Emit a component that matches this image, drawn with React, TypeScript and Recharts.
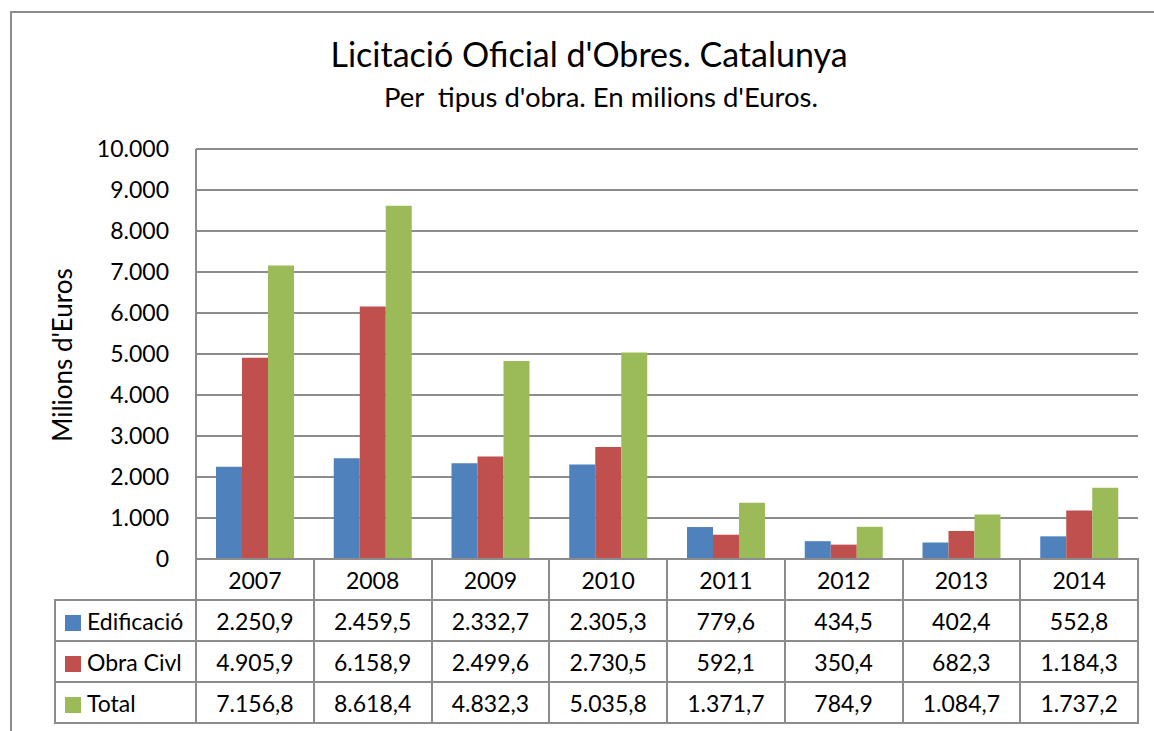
import React from 'react';
import { BarChart, Bar, XAxis, YAxis, CartesianGrid } from 'recharts';

const years = ['2007', '2008', '2009', '2010', '2011', '2012', '2013', '2014'];
const edificacio = [2250.9, 2459.5, 2332.7, 2305.3, 779.6, 434.5, 402.4, 552.8];
const obraCivil = [4905.9, 6158.9, 2499.6, 2730.5, 592.1, 350.4, 682.3, 1184.3];
const total = [7156.8, 8618.4, 4832.3, 5035.8, 1371.7, 784.9, 1084.7, 1737.2];
const yTicks = [0, 1000, 2000, 3000, 4000, 5000, 6000, 7000, 8000, 9000, 10000];

const series = [
    { key: 'edificacio', name: 'Edificació', color: '#4F81BD', values: edificacio },
    { key: 'obraCivil', name: 'Obra Civl', color: '#C0504D', values: obraCivil },
    { key: 'total', name: 'Total', color: '#9BBB59', values: total },
];

const data = years.map((year, i) => ({
    year,
    edificacio: edificacio[i],
    obraCivil: obraCivil[i],
    total: total[i],
}));

const FONT = 'Lato, "Open Sans", sans-serif';
const GRID = '#8c8c8c';

const thousands = (s: string) => s.replace(/\B(?=(\d{3})+(?!\d))/g, '.');
const fmtTick = (v: number) => thousands(String(v));
const fmtValue = (v: number) => {
    const [int, dec] = v.toFixed(1).split('.');
    return thousands(int) + ',' + dec;
};

const cell: React.CSSProperties = {
    border: `2px solid ${GRID}`,
    height: 39,
    padding: 0,
    textAlign: 'center',
    fontSize: 23,
    boxSizing: 'border-box',
};

const DataTable: React.FC = () => (
    <table
        style={{
            position: 'absolute',
            left: 54,
            top: 558,
            width: 1085,
            borderCollapse: 'collapse',
            tableLayout: 'fixed',
            fontFamily: FONT,
            color: '#000',
        }}
    >
        <colgroup>
            <col style={{ width: 141 }} />
            {years.map(y => <col key={y} />)}
        </colgroup>
        <tbody>
            <tr style={{ height: 41 }}>
                <td style={{ ...cell, border: 'none' }} />
                {years.map(y => <td key={y} style={cell}>{y}</td>)}
            </tr>
            {series.map(s => (
                <tr key={s.key} style={{ height: 41 }}>
                    <td style={{ ...cell, textAlign: 'left', paddingLeft: 9, whiteSpace: 'nowrap' }}>
                        <span style={{ display: 'inline-block', width: 16, height: 16, background: s.color, marginRight: 6, verticalAlign: -1 }} />
                        {s.name}
                    </td>
                    {s.values.map((v, i) => <td key={i} style={cell}>{fmtValue(v)}</td>)}
                </tr>
            ))}
        </tbody>
    </table>
);

export default function App() {
    return (
        <div style={{ position: 'absolute', left: 0, top: 0, width: 1154, height: 731, overflow: 'hidden', background: '#fff' }}>
            <div style={{ position: 'absolute', left: 10, top: 11, width: 1300, height: 900, border: `2px solid ${GRID}` }} />
            <div style={{ position: 'absolute', left: 0, width: 1178, top: 33, textAlign: 'center', fontFamily: FONT, fontSize: 34, color: '#000' }}>
                Licitació Oficial d'Obres. Catalunya
            </div>
            <div style={{ position: 'absolute', left: 0, width: 1202, top: 80, textAlign: 'center', fontFamily: FONT, fontSize: 27.5, color: '#000', whiteSpace: 'pre' }}>
                Per  tipus d'obra. En milions d'Euros.
            </div>
            <div
                style={{
                    position: 'absolute', left: 62, top: 355, transform: 'translate(-50%, -50%) rotate(-90deg)',
                    fontFamily: FONT, fontSize: 26, whiteSpace: 'nowrap', color: '#000',
                }}
            >
                Milions d'Euros
            </div>
            <div style={{ position: 'absolute', left: 0, top: 0 }}>
                <BarChart
                    width={1154}
                    height={731}
                    data={data}
                    margin={{ top: 149, right: 16, bottom: 172, left: 136 }}
                    barSize={26}
                    barGap={0}
                >
                    <CartesianGrid vertical={false} stroke={GRID} strokeWidth={2} />
                    <XAxis dataKey="year" hide />
                    <YAxis
                        width={60}
                        domain={[0, 10000]}
                        ticks={yTicks}
                        tickFormatter={fmtTick}
                        tickLine={false}
                        tickSize={0}
                        tickMargin={27}
                        axisLine={{ stroke: GRID, strokeWidth: 2 }}
                        tick={{ fontSize: 23, fill: '#000', fontFamily: FONT }}
                        interval={0}
                    />
                    {series.map(s => (
                        <Bar key={s.key} dataKey={s.key} name={s.name} fill={s.color} isAnimationActive={false} />
                    ))}
                </BarChart>
            </div>
            <DataTable />
        </div>
    );
}
